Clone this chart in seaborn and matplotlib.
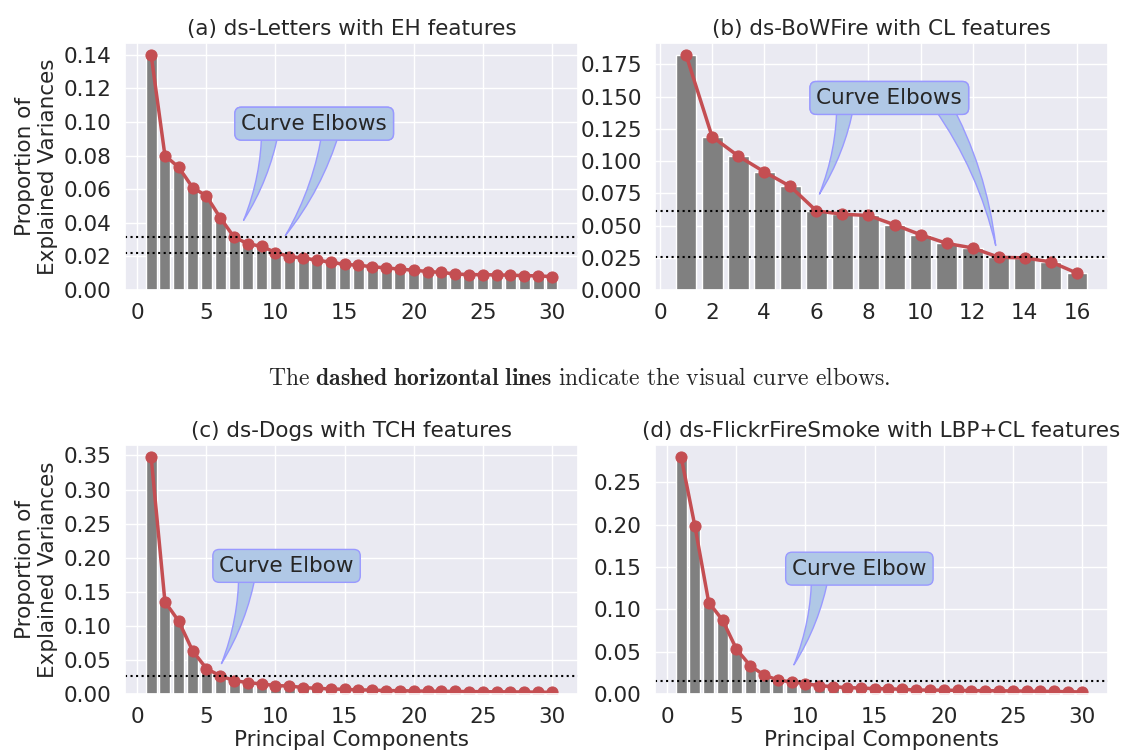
import numpy as np
import matplotlib
matplotlib.use('Agg')
import matplotlib.pyplot as plt
from matplotlib.ticker import MultipleLocator
import seaborn as sns

# explained variance ratios
pcs_30 = list(range(1, 31))
pcs_16 = list(range(1, 17))

letters_eh = [0.140, 0.080, 0.073, 0.061, 0.056, 0.043, 0.0315, 0.0275, 0.026, 0.0223,
              0.0199, 0.0191, 0.0177, 0.0166, 0.0152, 0.0148, 0.0138, 0.0132, 0.0124, 0.0118,
              0.0110, 0.0105, 0.0095, 0.0092, 0.0091, 0.0090, 0.0088, 0.0086, 0.0084, 0.0080]
bowfire_cl = [0.1825, 0.119, 0.104, 0.0917, 0.0804, 0.0614, 0.0588, 0.0578, 0.0506, 0.0429,
              0.0362, 0.0326, 0.0254, 0.0249, 0.0218, 0.0131]
dogs_tch = [0.348, 0.1354, 0.1068, 0.0635, 0.0374, 0.0266, 0.0197, 0.0167, 0.0148, 0.0123,
            0.0118, 0.0094, 0.0084, 0.0074, 0.0069, 0.0060, 0.0058, 0.0050, 0.0049, 0.0044,
            0.0042, 0.0040, 0.0038, 0.0036, 0.0034, 0.0032, 0.0031, 0.0029, 0.0027, 0.0025]
flickr_lbpcl = [0.280, 0.198, 0.108, 0.0873, 0.0531, 0.0334, 0.0224, 0.0165, 0.0142, 0.0122,
                0.0098, 0.0087, 0.0075, 0.0071, 0.0063, 0.0062, 0.0055, 0.0047, 0.0046, 0.0045,
                0.0043, 0.0040, 0.0039, 0.0038, 0.0036, 0.0034, 0.0032, 0.0030, 0.0027, 0.0024]

titles = ['(a) ds-Letters with EH features', '(b) ds-BoWFire with CL features',
          '(c) ds-Dogs with TCH features', '(d) ds-FlickrFireSmoke with LBP+CL features']
elbows = [[0.0315, 0.0223], [0.0614, 0.0254], [0.0266], [0.0157]]
labels = ['Curve Elbows', 'Curve Elbows', 'Curve Elbow', 'Curve Elbow']
ysteps = [0.02, 0.025, 0.05, 0.05]
# (text xy, [(arrow tip xy, relpos x), ...])
notes = [((12.8, 0.099), [((7.6, 0.040), 0.2), ((10.6, 0.031), 0.62)]),
         ((8.8, 0.149), [((6.07, 0.0725), 0.2), ((12.9, 0.0324), 0.85)]),
         ((10.8, 0.188), [((6.0, 0.041), 0.21)]),
         ((13.9, 0.148), [((9.07, 0.0315), 0.21)])]

sns.set_theme(style='darkgrid')
plt.rcParams['font.family'] = ['DejaVu Sans']
plt.rcParams['mathtext.fontset'] = 'cm'

fig = plt.figure(figsize=(11.24, 7.53), dpi=100)
W, H = 1124, 753
boxes = [(125, 43, 578, 290), (655, 43, 1108, 290),
         (125, 445, 578, 694), (655, 445, 1108, 694)]
datasets = [(pcs_30, letters_eh), (pcs_16, bowfire_cl), (pcs_30, dogs_tch), (pcs_30, flickr_lbpcl)]

box_fc = '#b0c8e6'
box_ec = '#9999ff'
fs = 15.5

for i, (l, t, r, b) in enumerate(boxes):
    ax = fig.add_axes([l / W, 1 - b / H, (r - l) / W, (b - t) / H])
    x, y = datasets[i]
    sns.barplot(x=x, y=y, native_scale=True, color='grey', edgecolor='white',
                linewidth=1, saturation=1, ax=ax)
    sns.lineplot(x=x, y=y, color='#c44e52', marker='o', markersize=8, linewidth=2.5,
                 markeredgecolor='#c44e52', ax=ax)
    for e in elbows[i]:
        ax.axhline(e, color='black', linestyle=':', linewidth=1.5)
    txy, arrows = notes[i]
    for tip, rx in arrows:
        ax.annotate(labels[i], xy=tip, xytext=txy, ha='center', va='center', fontsize=fs,
                    bbox=dict(boxstyle='round', fc=box_fc, ec=box_ec),
                    arrowprops=dict(arrowstyle='wedge,tail_width=0.8', fc=box_fc, ec=box_ec,
                                    patchA=None, relpos=(rx, 0.3),
                                    connectionstyle='arc3,rad=-0.1'))
    ax.set_title(titles[i], fontsize=fs)
    ax.tick_params(labelsize=fs)
    ax.yaxis.set_major_locator(MultipleLocator(ysteps[i]))
    ax.set_xticks([0, 5, 10, 15, 20, 25, 30] if len(x) == 30 else list(range(0, 17, 2)))
    ax.set_xlabel('Principal Components' if i >= 2 else '', fontsize=fs, labelpad=2)
    ax.set_ylabel('Proportion of\nExplained Variances' if i % 2 == 0 else '', fontsize=fs)

fig.text(0.515, 1 - 378 / H,
         r'$\mathrm{The}\ \mathbf{dashed\ horizontal\ lines}\ \mathrm{indicate\ the\ visual\ curve\ elbows.}$',
         ha='center', va='center', fontsize=17)

fig.savefig('out.png', dpi=100)
